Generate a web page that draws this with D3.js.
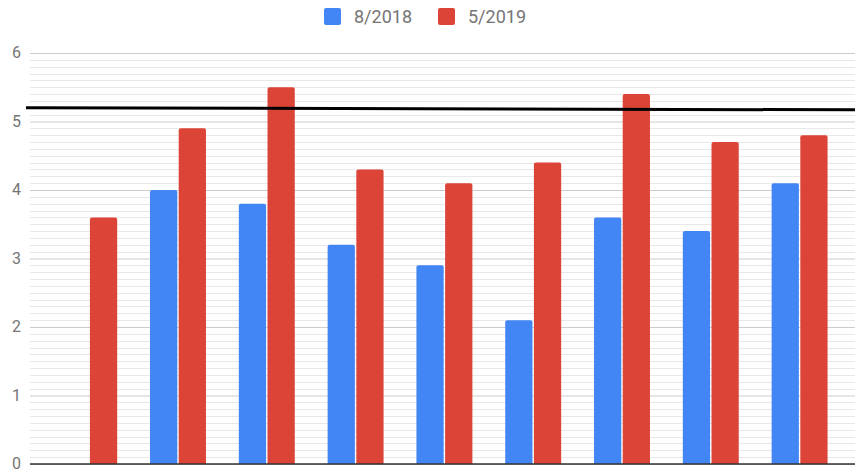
<!DOCTYPE html>
<html lang="en">
    <head>
        <meta charset="UTF-8">
        <title>8/2018 vs 5/2019</title>
        <style>
        body {
            margin: 0;
            overflow: hidden;
            background: #fff;
        }

        text {
            font-family: Roboto, "Noto Sans", sans-serif;
            fill: #757575;
        }

        .minor {
            stroke: #e8e8e8;
            stroke-width: 1px;
        }

        .major {
            stroke: #cccccc;
            stroke-width: 1px;
        }
        </style>
    </head>
    <body>
        <svg></svg>
        <script src="https://d3js.org/d3.v7.min.js"></script>
        <script>
    // Chart data
    const categories = ["1", "2", "3", "4", "5", "6", "7", "8", "9"];
    const seriesNames = ["8/2018", "5/2019"];
    const seriesColors = ["#4285f4", "#db4437"];
    const values2018 = [null, 4.0, 3.8, 3.2, 2.9, 2.1, 3.6, 3.4, 4.1];
    const values2019 = [3.6, 4.9, 5.5, 4.3, 4.1, 4.4, 5.4, 4.7, 4.8];
    const yTicks = [0, 1, 2, 3, 4, 5, 6];
    const targetLine = [5.2, 5.17];  // black reference line, left end / right end

    const width = 855, height = 472;

    const svg = d3.select("svg")
        .attr("width", width)
        .attr("height", height);

    const y = d3.scaleLinear().domain([0, 6]).range([464, 53]);

    const x0 = d3.scaleBand()
        .domain(categories)
        .range([44.8, 844])
        .paddingInner(0.37)
        .paddingOuter(0.185);

    const x1 = d3.scaleBand()
        .domain(seriesNames)
        .range([0, x0.bandwidth()])
        .paddingInner(0.05);

    const color = d3.scaleOrdinal().domain(seriesNames).range(seriesColors);

    // Minor gridlines every 0.1
    const minorTicks = d3.range(1, 60).filter(d => d % 10 !== 0).map(d => d / 10);
    svg.append("g")
        .selectAll("line")
        .data(minorTicks)
        .enter().append("line")
        .attr("class", "minor")
        .attr("x1", 30)
        .attr("x2", width)
        .attr("y1", d => Math.round(y(d)) + 0.5)
        .attr("y2", d => Math.round(y(d)) + 0.5);

    // Major gridlines + labels via axis
    const yAxis = svg.append("g")
        .attr("transform", "translate(30,0)")
        .call(d3.axisLeft(y).tickValues(yTicks).tickSize(-(width - 30)).tickFormat(d3.format("d")));
    yAxis.select(".domain").remove();
    yAxis.selectAll(".tick line")
        .attr("class", "major")
        .attr("stroke", null);
    yAxis.selectAll(".tick text")
        .attr("x", -9)
        .attr("dy", null)
        .attr("y", 4.5)
        .attr("fill", null)
        .style("font-size", "16px")
        .style("font-family", "Roboto, sans-serif");

    // Bars
    const rows = categories.map((c, i) => ({
        cat: c,
        vals: [
            { key: seriesNames[0], value: values2018[i] },
            { key: seriesNames[1], value: values2019[i] }
        ]
    }));

    svg.append("g")
        .selectAll("g")
        .data(rows)
        .enter().append("g")
        .attr("transform", d => `translate(${x0(d.cat)},0)`)
        .selectAll("path")
        .data(d => d.vals.filter(v => v.value != null))
        .enter().append("path")
        .attr("fill", d => color(d.key))
        .attr("d", d => {
            const bx = x1(d.key), bw = x1.bandwidth();
            const top = y(d.value), bottom = y(0), r = 2;
            return `M${bx},${bottom}V${top + r}Q${bx},${top} ${bx + r},${top}` +
                `H${bx + bw - r}Q${bx + bw},${top} ${bx + bw},${top + r}V${bottom}Z`;
        });

    // Baseline
    svg.append("line")
        .attr("x1", 30)
        .attr("x2", width)
        .attr("y1", y(0))
        .attr("y2", y(0))
        .attr("stroke", "#333")
        .attr("stroke-width", 1.5);

    // Reference line
    svg.append("line")
        .attr("x1", 26)
        .attr("x2", width)
        .attr("y1", y(targetLine[0]))
        .attr("y2", y(targetLine[1]))
        .attr("stroke", "#000")
        .attr("stroke-width", 3);

    // Legend
    const legendX = [324, 438];
    const legend = svg.append("g")
        .selectAll("g")
        .data(seriesNames)
        .enter().append("g")
        .attr("transform", (d, i) => `translate(${legendX[i]},8)`);

    legend.append("rect")
        .attr("width", 17)
        .attr("height", 17)
        .attr("rx", 2)
        .attr("fill", d => color(d));

    legend.append("text")
        .attr("x", 30)
        .attr("y", 15)
        .style("font-size", "18px")
        .text(d => d);
        </script>
    </body>
</html>
